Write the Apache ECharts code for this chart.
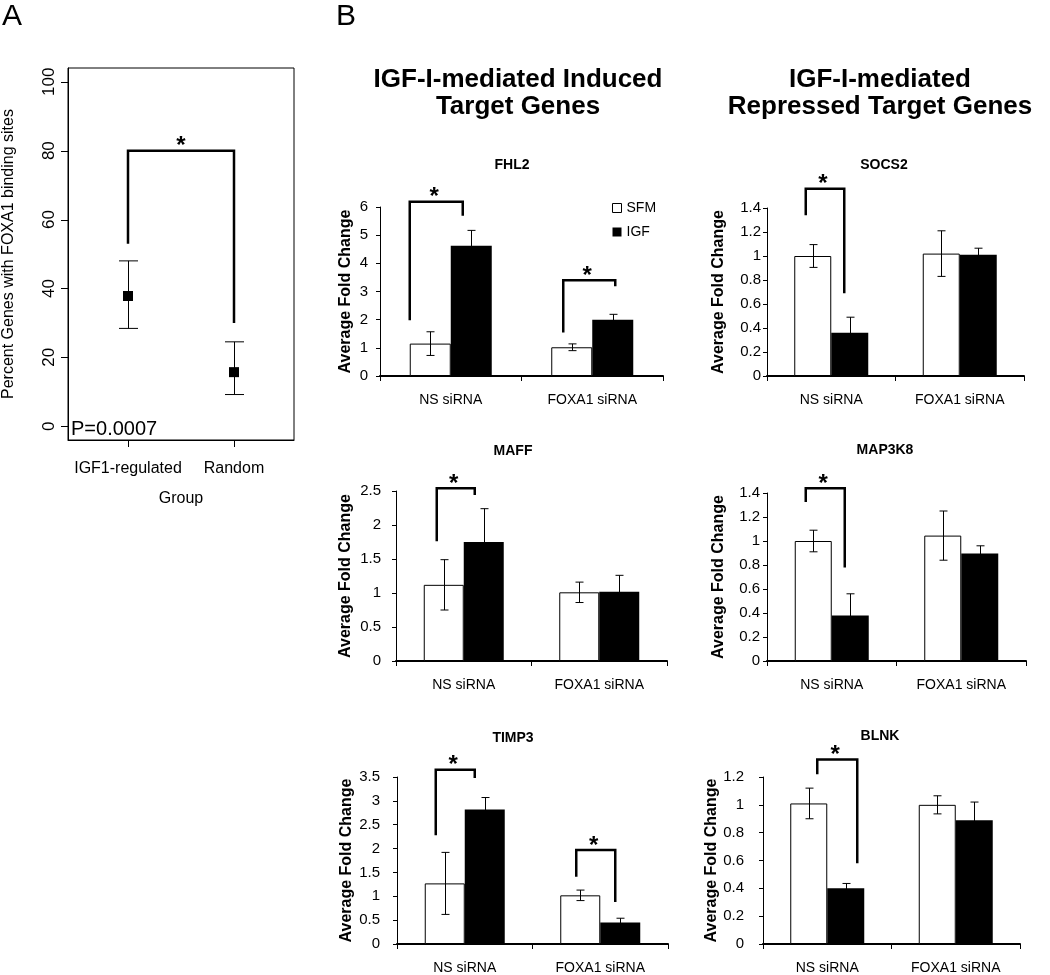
<!DOCTYPE html>
<html>
<head>
<meta charset="utf-8">
<script src="https://cdn.jsdelivr.net/npm/echarts@6/dist/echarts.min.js"></script>
<style>
html,body{margin:0;padding:0;background:#fff;}
#chart{width:1050px;height:975px;}
</style>
</head>
<body>
<div id="chart"></div>
<script>
// ---------------- DATA ----------------
// Panel A
const A_GROUPS = ['IGF1-regulated', 'Random'];
const A_GROUP_POS = [1, 2];
const A_MEAN = [37.8, 15.7];
const A_LOW = [28.4, 9.2];
const A_HIGH = [48.0, 24.5];
const A_SIG = [53, 80, 30];          // left leg start, bracket top, right leg end
const A_TICKS = [0, 20, 40, 60, 80, 100];
const A_PVALUE = 'P=0.0007';

// Panel B
const GROUPS = ['NS siRNA', 'FOXA1 siRNA'];
const SERIES_NAMES = ['SFM', 'IGF'];

const FHL2_SFM = [1.15, 1.02];
const FHL2_IGF = [4.62, 2.00];
const FHL2_SFM_ERR = [0.42, 0.12];
const FHL2_IGF_ERR = [0.55, 0.19];
const FHL2_SIG = [[0, 1.98, 6.19, 5.69], [1, 1.54, 3.40, 3.19]];

const SOCS2_SFM = [1.00, 1.02];
const SOCS2_IGF = [0.36, 1.01];
const SOCS2_SFM_ERR = [0.095, 0.19];
const SOCS2_IGF_ERR = [0.13, 0.055];
const SOCS2_SIG = [[0, 1.34, 1.56, 0.69]];

const MAFF_SFM = [1.12, 1.01];
const MAFF_IGF = [1.75, 1.02];
const MAFF_SFM_ERR = [0.37, 0.15];
const MAFF_IGF_ERR = [0.49, 0.24];
const MAFF_SIG = [[0, 1.76, 2.54, 2.44]];

const MAP3K8_SFM = [1.00, 1.045];
const MAP3K8_IGF = [0.38, 0.895];
const MAP3K8_SFM_ERR = [0.09, 0.205];
const MAP3K8_IGF_ERR = [0.18, 0.065];
const MAP3K8_SIG = [[0, 1.325, 1.44, 0.78]];

const TIMP3_SFM = [1.27, 1.02];
const TIMP3_IGF = [2.82, 0.45];
const TIMP3_SFM_ERR = [0.65, 0.11];
const TIMP3_IGF_ERR = [0.25, 0.09];
const TIMP3_SIG = [[0, 2.28, 3.65, 3.48], [1, 1.41, 1.97, 0.88]];

const BLNK_SFM = [1.01, 1.00];
const BLNK_IGF = [0.40, 0.89];
const BLNK_SFM_ERR = [0.11, 0.065];
const BLNK_IGF_ERR = [0.035, 0.13];
const BLNK_SIG = [[0, 1.22, 1.325, 0.58]];

// ---------------- LAYOUT ----------------
const FONT = "'Liberation Sans', Arial, Helvetica, sans-serif";
const PANELS = [
  {name:'FHL2',   sfm:FHL2_SFM,   igf:FHL2_IGF,   sfmErr:FHL2_SFM_ERR,   igfErr:FHL2_IGF_ERR,   sig:FHL2_SIG,
   left:380, top:207, width:283, height:169, max:6,   interval:1,   bw:41, titleX:512, titleY:165, nameX:346, labelMargin:12, dx:[[-41,12],[-29,23]]},
  {name:'SOCS2',  sfm:SOCS2_SFM,  igf:SOCS2_IGF,  sfmErr:SOCS2_SFM_ERR,  igfErr:SOCS2_IGF_ERR,  sig:SOCS2_SIG,
   left:767, top:208, width:257, height:168, max:1.4, interval:0.2, bw:37, titleX:884, titleY:165, nameX:719, labelMargin:6, dx:[[-25.5,13]]},
  {name:'MAFF',   sfm:MAFF_SFM,   igf:MAFF_IGF,   sfmErr:MAFF_SFM_ERR,   igfErr:MAFF_IGF_ERR,   sig:MAFF_SIG,
   left:396, top:491, width:271, height:170, max:2.5, interval:0.5, bw:40, titleX:513, titleY:451, nameX:346, labelMargin:15, dx:[[-27,11]]},
  {name:'MAP3K8', sfm:MAP3K8_SFM, igf:MAP3K8_IGF, sfmErr:MAP3K8_SFM_ERR, igfErr:MAP3K8_IGF_ERR, sig:MAP3K8_SIG,
   left:767, top:493, width:259, height:168, max:1.4, interval:0.2, bw:37, titleX:885, titleY:450, nameX:719, labelMargin:7, dx:[[-26,13]]},
  {name:'TIMP3',  sfm:TIMP3_SFM,  igf:TIMP3_IGF,  sfmErr:TIMP3_SFM_ERR,  igfErr:TIMP3_IGF_ERR,  sig:TIMP3_SIG,
   left:397, top:777, width:271, height:168, max:3.5, interval:0.5, bw:40, titleX:513, titleY:738, nameX:347, labelMargin:17, dx:[[-29,10],[-24,15]]},
  {name:'BLNK',   sfm:BLNK_SFM,   igf:BLNK_IGF,   sfmErr:BLNK_SFM_ERR,   igfErr:BLNK_IGF_ERR,   sig:BLNK_SIG,
   left:763, top:777, width:257, height:168, max:1.2, interval:0.2, bw:37, titleX:880, titleY:736, nameX:716, labelMargin:19, dx:[[-10,30]]}
];

// ---------------- RENDERERS ----------------
function makeErrRender(bw, cap) {
  return function (params, api) {
    const cat = api.value(0), lo = api.value(1), hi = api.value(2), g = api.value(3);
    let x = api.coord([cat, 0])[0] + (g === 0 ? -bw / 2 : bw / 2);
    x = Math.round(x) + 0.5;
    const y1 = api.coord([cat, lo])[1], y2 = api.coord([cat, hi])[1];
    const st = {stroke: '#000', lineWidth: 1};
    return {type: 'group', children: [
      {type: 'line', shape: {x1: x, y1: y1, x2: x, y2: y2}, style: st},
      {type: 'line', shape: {x1: x - cap, y1: y1, x2: x + cap, y2: y1}, style: st},
      {type: 'line', shape: {x1: x - cap, y1: y2, x2: x + cap, y2: y2}, style: st}
    ]};
  };
}

function makeSigRender(dx) {
  return function (params, api) {
    const i = params.dataIndex;
    const cat = api.value(0);
    const cx = api.coord([cat, 0])[0];
    const xl = cx + dx[i][0], xr = cx + dx[i][1];
    const yl = api.coord([cat, api.value(1)])[1];
    const yt = api.coord([cat, api.value(2)])[1];
    const yr = api.coord([cat, api.value(3)])[1];
    return {type: 'group', children: [
      {type: 'polyline', shape: {points: [[xl, yl], [xl, yt], [xr, yt], [xr, yr]]},
       style: {stroke: '#000', lineWidth: 2.5, fill: 'none'}},
      {type: 'text', style: {text: '*', x: (xl + xr) / 2 - 2, y: yt - 4, align: 'center', verticalAlign: 'middle',
        fontSize: 24, fontWeight: 'bold', fill: '#000', fontFamily: FONT}}
    ]};
  };
}

// ---------------- OPTION ----------------
const grids = [], xAxes = [], yAxes = [], series = [], graphics = [];

// Panel A
grids.push({left: 68, top: 68, width: 226, height: 372, show: true, borderColor: '#000', borderWidth: 1, backgroundColor: 'transparent'});
xAxes.push({gridIndex: 0, type: 'value', min: 0.434, max: 2.566,
  axisLine: {show: true, onZero: false, lineStyle: {color: '#000', width: 1}}, splitLine: {show: false},
  axisTick: {show: false},
  axisLabel: {customValues: A_GROUP_POS, formatter: v => A_GROUPS[A_GROUP_POS.indexOf(Math.round(v))] || '', fontSize: 16, margin: 21, color: '#000', fontFamily: FONT},
  name: 'Group', nameLocation: 'middle', nameGap: 51, nameTextStyle: {fontSize: 16, color: '#000', fontFamily: FONT}});
yAxes.push({gridIndex: 0, type: 'value', min: -4, max: 104,
  axisLine: {show: true, onZero: false, lineStyle: {color: '#000', width: 1}}, splitLine: {show: false},
  axisTick: {show: false},
  axisLabel: {customValues: A_TICKS, rotate: 90, fontSize: 17, margin: 10, color: '#000', fontFamily: FONT},
  name: 'Percent Genes with FOXA1 binding sites', nameLocation: 'middle', nameRotate: 90, nameGap: 51,
  nameTextStyle: {fontSize: 16, color: '#000', fontFamily: FONT}});
// axis ticks of panel A (drawn through the axis scales)
series.push({type: 'custom', xAxisIndex: 0, yAxisIndex: 0, silent: true, z: 6,
  renderItem: function (params, api) {
    const cs = params.coordSys;
    const y = Math.round(api.coord([A_GROUP_POS[0], api.value(0)])[1]) + 0.5;
    return {type: 'line', shape: {x1: cs.x - 7, y1: y, x2: cs.x, y2: y}, style: {stroke: '#000', lineWidth: 1}};
  },
  encode: {y: 0}, data: A_TICKS.map(v => [v])});
series.push({type: 'custom', xAxisIndex: 0, yAxisIndex: 0, silent: true, z: 6,
  renderItem: function (params, api) {
    const cs = params.coordSys;
    const x = Math.round(api.coord([api.value(0), 0])[0]) + 0.5;
    const yb = cs.y + cs.height;
    return {type: 'line', shape: {x1: x, y1: yb, x2: x, y2: yb + 7}, style: {stroke: '#000', lineWidth: 1}};
  },
  encode: {x: 0}, data: A_GROUP_POS.map(v => [v])});
series.push({type: 'scatter', xAxisIndex: 0, yAxisIndex: 0, symbol: 'rect', symbolSize: 10,
  itemStyle: {color: '#000', opacity: 1}, data: A_MEAN.map((m, i) => [A_GROUP_POS[i], m]), z: 4, silent: true});
series.push({type: 'custom', xAxisIndex: 0, yAxisIndex: 0, renderItem: function (params, api) {
    const x = Math.round(api.coord([api.value(0), 0])[0]) + 0.5;
    const y1 = api.coord([0, api.value(1)])[1], y2 = api.coord([0, api.value(2)])[1];
    const st = {stroke: '#000', lineWidth: 1};
    return {type: 'group', children: [
      {type: 'line', shape: {x1: x, y1: y1, x2: x, y2: y2}, style: st},
      {type: 'line', shape: {x1: x - 9.5, y1: y1, x2: x + 9.5, y2: y1}, style: st},
      {type: 'line', shape: {x1: x - 9.5, y1: y2, x2: x + 9.5, y2: y2}, style: st}]};
  },
  encode: {x: 0, y: [1, 2]}, data: A_MEAN.map((m, i) => [A_GROUP_POS[i], A_LOW[i], A_HIGH[i]]), z: 3, silent: true});
series.push({type: 'custom', xAxisIndex: 0, yAxisIndex: 0, renderItem: function (params, api) {
    const xl = api.coord([A_GROUP_POS[0], 0])[0], xr = api.coord([A_GROUP_POS[1], 0])[0];
    const yl = api.coord([1, api.value(0)])[1], yt = api.coord([1, api.value(1)])[1], yr = api.coord([1, api.value(2)])[1];
    return {type: 'group', children: [
      {type: 'polyline', shape: {points: [[xl, yl], [xl, yt], [xr, yt], [xr, yr]]}, style: {stroke: '#000', lineWidth: 2.5, fill: 'none'}},
      {type: 'text', style: {text: '*', x: (xl + xr) / 2, y: yt - 4, align: 'center', verticalAlign: 'middle', fontSize: 24, fontWeight: 'bold', fill: '#000', fontFamily: FONT}}]};
  },
  encode: {y: [0, 1, 2]}, data: [A_SIG], z: 5, silent: true});

// Panel B
PANELS.forEach((p, k) => {
  const gi = k + 1;
  grids.push({left: p.left, top: p.top, width: p.width, height: p.height});
  xAxes.push({gridIndex: gi, type: 'category', data: GROUPS,
    axisLine: {lineStyle: {color: '#000', width: 2}},
    axisTick: {show: true, length: 5, lineStyle: {color: '#000', width: 1}},
    axisLabel: {fontSize: 14, color: '#000', margin: 17, fontFamily: FONT}});
  yAxes.push({gridIndex: gi, type: 'value', min: 0, max: p.max, interval: p.interval,
    axisLine: {show: true, lineStyle: {color: '#000', width: 1}},
    axisTick: {show: true, length: 4, lineStyle: {color: '#000'}},
    splitLine: {show: false},
    axisLabel: {fontSize: 15, color: '#000', margin: p.labelMargin, fontFamily: FONT},
    name: 'Average Fold Change', nameLocation: 'middle', nameRotate: 90, nameGap: p.left - p.nameX - 8,
    nameTextStyle: {fontSize: 16, fontWeight: 'bold', color: '#000', fontFamily: FONT}});
  series.push({type: 'bar', name: SERIES_NAMES[0], xAxisIndex: gi, yAxisIndex: gi, data: p.sfm,
    barWidth: p.bw, barGap: '0%', itemStyle: {color: '#fff', borderColor: '#000', borderWidth: 1}, z: 2, silent: true});
  series.push({type: 'bar', name: SERIES_NAMES[1], xAxisIndex: gi, yAxisIndex: gi, data: p.igf,
    barWidth: p.bw, barGap: '0%', itemStyle: {color: '#000'}, z: 2, silent: true});
  const errData = [];
  p.sfm.forEach((v, i) => errData.push([i, v - p.sfmErr[i], v + p.sfmErr[i], 0]));
  p.igf.forEach((v, i) => errData.push([i, v - p.igfErr[i], v + p.igfErr[i], 1]));
  series.push({type: 'custom', xAxisIndex: gi, yAxisIndex: gi, renderItem: makeErrRender(p.bw, 4),
    encode: {x: 0, y: [1, 2]}, data: errData, z: 3, silent: true});
  series.push({type: 'custom', xAxisIndex: gi, yAxisIndex: gi, renderItem: makeSigRender(p.dx),
    encode: {x: 0, y: [1, 2, 3]}, data: p.sig, z: 4, silent: true});
  graphics.push({type: 'text', style: {text: p.name, x: p.titleX, y: p.titleY, align: 'center', verticalAlign: 'middle',
    fontSize: 14, fontWeight: 'bold', fill: '#000', fontFamily: FONT}});
});

// Panel letters, headers, p-value
graphics.push({type: 'text', style: {text: 'A', x: 2, y: 17, verticalAlign: 'middle', fontSize: 30, fill: '#000', fontFamily: FONT}});
graphics.push({type: 'text', style: {text: 'B', x: 336, y: 17, verticalAlign: 'middle', fontSize: 30, fill: '#000', fontFamily: FONT}});
graphics.push({type: 'text', style: {text: 'IGF-I-mediated Induced', x: 518, y: 80, align: 'center', verticalAlign: 'middle', fontSize: 26, fontWeight: 'bold', fill: '#000', fontFamily: FONT}});
graphics.push({type: 'text', style: {text: 'Target Genes', x: 518, y: 107, align: 'center', verticalAlign: 'middle', fontSize: 26, fontWeight: 'bold', fill: '#000', fontFamily: FONT}});
graphics.push({type: 'text', style: {text: 'IGF-I-mediated', x: 880, y: 80, align: 'center', verticalAlign: 'middle', fontSize: 26, fontWeight: 'bold', fill: '#000', fontFamily: FONT}});
graphics.push({type: 'text', style: {text: 'Repressed Target Genes', x: 880, y: 107, align: 'center', verticalAlign: 'middle', fontSize: 26, fontWeight: 'bold', fill: '#000', fontFamily: FONT}});
graphics.push({type: 'text', style: {text: A_PVALUE, x: 71, y: 429, verticalAlign: 'middle', fontSize: 20, fill: '#000', fontFamily: FONT}});

const option = {
  animation: false,
  backgroundColor: '#fff',
  textStyle: {fontFamily: FONT},
  legend: {show: true, left: 607, top: 196, orient: 'vertical', itemWidth: 9, itemHeight: 9, itemGap: 10,
    selectedMode: false, icon: 'rect', textStyle: {fontSize: 14, color: '#000', fontFamily: FONT},
    data: [{name: 'SFM', itemStyle: {color: '#fff', borderColor: '#000', borderWidth: 1}},
           {name: 'IGF', itemStyle: {color: '#000'}}]},
  grid: grids, xAxis: xAxes, yAxis: yAxes, series: series,
  graphic: graphics
};

const chart = echarts.init(document.getElementById('chart'), null, {renderer: 'canvas'});
chart.setOption(option);
</script>
</body>
</html>
